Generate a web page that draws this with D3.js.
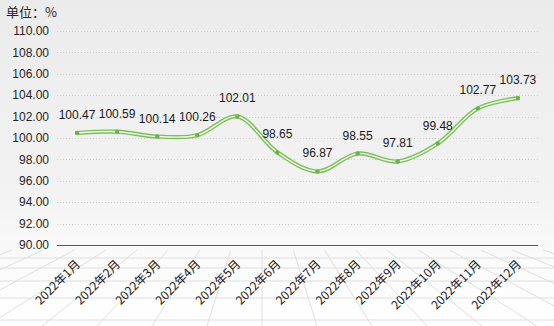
<!DOCTYPE html>
<html><head><meta charset="utf-8">
<script src="https://cdn.jsdelivr.net/npm/d3@7"></script>
<style>html,body{margin:0;padding:0;background:#fff;}svg{display:block;}</style>
</head><body>
<svg id="c" width="554" height="326"></svg>
<script>
const categories = ["2022年1月","2022年2月","2022年3月","2022年4月","2022年5月","2022年6月","2022年7月","2022年8月","2022年9月","2022年10月","2022年11月","2022年12月"];
const values = [100.47,100.59,100.14,100.26,102.01,98.65,96.87,98.55,97.81,99.48,102.77,103.73];
const yTicks = [90,92,94,96,98,100,102,104,106,108,110];
const unitLabel = "单位：%";

const W = 554, H = 326;
const svg = d3.select("#c");
const defs = svg.append("defs");
const g1 = defs.append("linearGradient").attr("id","bg").attr("x1",0).attr("y1",0).attr("x2",0).attr("y2",1);
g1.append("stop").attr("offset","0").attr("stop-color","#ebebeb");
g1.append("stop").attr("offset","0.6").attr("stop-color","#f3f3f3");
g1.append("stop").attr("offset","0.8").attr("stop-color","#fbfbfb");
g1.append("stop").attr("offset","1").attr("stop-color","#ffffff");
svg.append("rect").attr("width",W).attr("height",H).attr("fill","url(#bg)");

// perspective floor decoration
const floor = svg.append("g").attr("stroke","#dedede").attr("stroke-width",1).attr("fill","none");
const vpX = 262, vpY = 150;
[258, 268, 281, 298, 320].forEach(y => {
  floor.append("line").attr("x1",0).attr("y1",y).attr("x2",W).attr("y2",y);
});
d3.range(-14, 15).forEach(i => {
  const xb = vpX + i * 55; // x at y=H
  const t = (250 - vpY) / (H - vpY);
  const xs = vpX + (xb - vpX) * t;
  floor.append("line").attr("x1",xs).attr("y1",250).attr("x2",xb).attr("y2",H);
});

const x = d3.scaleBand().domain(categories).range([57, 538]);
const y = d3.scaleLinear().domain([90, 110]).range([245, 31]);
const cx = d => x(d) + x.bandwidth()/2;

// grid
svg.append("g").selectAll("line").data(yTicks.filter(t => t > 90)).join("line")
  .attr("x1",57).attr("x2",538).attr("y1",d=>Math.round(y(d))+0.5).attr("y2",d=>Math.round(y(d))+0.5)
  .attr("stroke","#cfcfcf").attr("stroke-width",1).attr("stroke-dasharray","1,2");

// y tick labels
svg.append("g").selectAll("text").data(yTicks).join("text")
  .attr("x",49).attr("y",d=>y(d)).attr("dy","0.35em").attr("text-anchor","end")
  .attr("font-family","'Liberation Sans', Arial, sans-serif").attr("font-size",12).attr("fill","#262626")
  .text(d=>d.toFixed(2));

// x axis line
svg.append("line").attr("x1",57).attr("x2",538).attr("y1",245.5).attr("y2",245.5)
  .attr("stroke","#595959").attr("stroke-width",1);

// x labels
svg.append("g").selectAll("text").data(categories).join("text")
  .attr("transform",d=>`translate(${cx(d)+1},262) rotate(-45)`)
  .attr("text-anchor","end").attr("dy","0.35em")
  .attr("font-family","'Noto Sans CJK SC', 'Liberation Sans', sans-serif").attr("font-size",12).attr("fill","#1a1a1a")
  .text(d=>d);

// unit label
svg.append("text").attr("x",6).attr("y",17)
  .attr("font-family","'Noto Sans CJK SC', sans-serif").attr("font-size",13).attr("fill","#262626")
  .text(unitLabel);

// line
const pts = categories.map((c,i)=>[cx(c), y(values[i])]);
const line = d3.line().curve(d3.curveCatmullRom.alpha(0.5));
svg.append("path").attr("d",line(pts)).attr("fill","none").attr("stroke","#7cbf5a").attr("stroke-width",4.2).attr("stroke-linecap","round");
svg.append("path").attr("d",line(pts)).attr("fill","none").attr("stroke","#eef7e8").attr("stroke-width",1.4).attr("stroke-linecap","round");
svg.append("g").selectAll("circle").data(pts).join("circle")
  .attr("cx",d=>d[0]).attr("cy",d=>d[1]).attr("r",2.2).attr("fill","#6db24a");

// data labels
svg.append("g").selectAll("text").data(values).join("text")
  .attr("x",(d,i)=>cx(categories[i])).attr("y",d=>y(d)-14).attr("text-anchor","middle")
  .attr("font-family","'Liberation Sans', Arial, sans-serif").attr("font-size",12).attr("fill","#1a1a1a")
  .text(d=>d.toFixed(2));
</script>
</body></html>
